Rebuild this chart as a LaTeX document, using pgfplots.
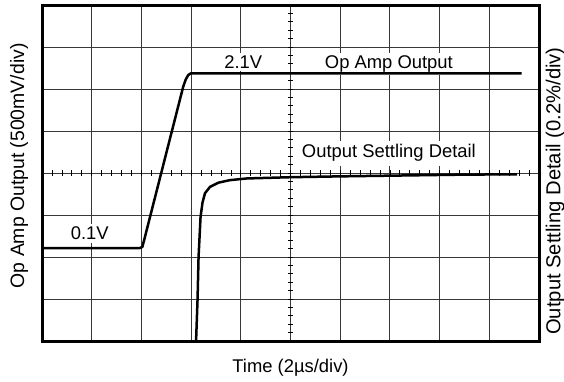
\documentclass[border=0pt]{standalone}
\usepackage{pgfplots}
\pgfplotsset{compat=1.18}
\usepackage{fontspec}
\setmainfont{Liberation Sans}
\begin{document}
\begin{tikzpicture}[font=\fontsize{18.4}{22}\selectfont]
\begin{axis}[
  scale only axis, width=497pt, height=336pt,
  xmin=0, xmax=10, ymin=0, ymax=8,
  xtick={0,...,10}, ytick={0,...,8},
  xticklabels={}, yticklabels={},
  major tick length=0pt,
  grid=major, major grid style={black!78, line width=0.9pt},
  axis line style={line width=3pt},
  clip=false,
]
\coordinate (ll) at (rel axis cs:0,0);
\coordinate (ur) at (rel axis cs:1,1);
% centre graticule with minor ticks
\pgfplotsinvokeforeach{0.2,0.4,...,9.8}{\draw[black, line width=0.7pt] (axis cs:#1,3.94) -- (axis cs:#1,4.06);}
\pgfplotsinvokeforeach{0.2,0.4,...,7.8}{\draw[black, line width=0.7pt] (axis cs:4.95,#1) -- (axis cs:5.05,#1);}
% labels with white boxes
\node[fill=white, inner sep=3pt, anchor=base] at (axis cs:4.05,6.49) {2.1V};
\node[fill=white, inner sep=3pt, anchor=base] at (axis cs:6.98,6.49) {Op Amp Output};
\node[fill=white, inner sep=4pt, anchor=base] at (axis cs:6.98,4.36) {Output Settling Detail};
\node[fill=white, inner sep=3pt, anchor=base] at (axis cs:0.96,2.42) {0.1V};
% traces
\addplot[black, line width=2.5pt, line join=round] coordinates {
 (0,2.21) (1.96,2.21) (2.02,2.24) (2.84,6.05) (2.89,6.22) (2.94,6.33) (2.99,6.37) (9.65,6.37)};
\addplot[black, line width=2.5pt, line join=round] coordinates {
 (3.10,0) (3.13,1.0) (3.15,2.0) (3.19,2.95) (3.23,3.3) (3.28,3.52) (3.38,3.67) (3.55,3.77)
 (3.78,3.83) (4.12,3.87) (5.0,3.90) (6.0,3.92) (7.2,3.94) (8.4,3.96) (9.56,3.97)};
% axis titles
\node[anchor=base] at (axis cs:5,-0.755) {Time (2\textmu s/div)};
\node[anchor=base, rotate=90, font=\fontsize{19.4}{22}\selectfont] at (axis cs:-0.362,4.17) {Op Amp Output (500mV/div)};
\node[anchor=base, rotate=90, font=\fontsize{20.2}{24}\selectfont] at (axis cs:10.43,3.57) {Output Settling Detail (0.2\%/div)};
\end{axis}
\pgfresetboundingbox
\path[use as bounding box] ([shift={(-42pt,-40pt)}]ll) rectangle ([shift={(25pt,5pt)}]ur);
\end{tikzpicture}
\end{document}
